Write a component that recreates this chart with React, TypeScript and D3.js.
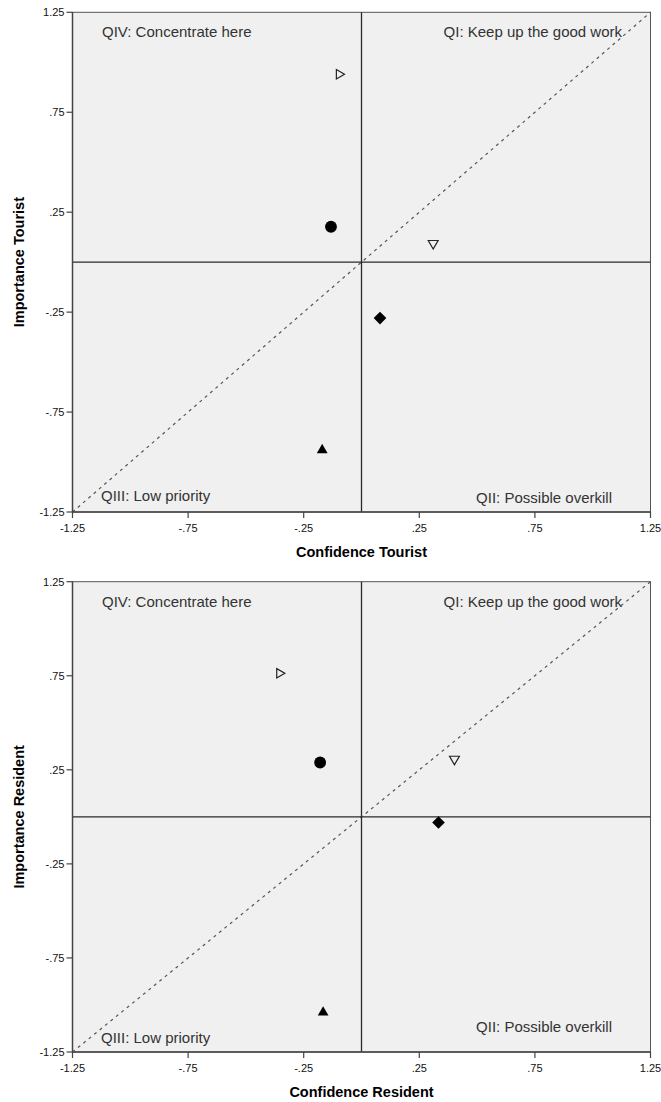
import React from "react";
import * as d3 from "d3";

const tickValues = [-1.25, -0.75, -0.25, 0.25, 0.75, 1.25];
const markerKeys = ["rightTri", "circle", "downTri", "diamond", "upTri"];

const touristConfidence = [-0.097, -0.132, 0.31, 0.08, -0.17];
const touristImportance = [0.94, 0.177, 0.094, -0.28, -0.94];

const residentConfidence = [-0.355, -0.179, 0.402, 0.333, -0.166];
const residentImportance = [0.763, 0.289, 0.307, -0.03, -1.04];

const quadrantLabels = ["QIV: Concentrate here", "QI: Keep up the good work", "QIII: Low priority", "QII: Possible overkill"];

const fmt = (v: number) => {
  const s = String(v);
  return s.replace(/^(-?)0\./, "$1.");
};

type PanelProps = {
  top: number;
  bottom: number;
  xs: number[];
  ys: number[];
  xTitle: string;
  yTitle: string;
  qiiOffset: number;
  qiiiOffset: number;
};

const FONT = "'Liberation Sans', Arial, sans-serif";

function Panel({ top, bottom, xs, ys, xTitle, yTitle, qiiOffset, qiiiOffset }: PanelProps) {
  const left = 72.5;
  const right = 650.5;
  const x = d3.scaleLinear().domain([-1.25, 1.25]).range([left, right]);
  const y = d3.scaleLinear().domain([-1.25, 1.25]).range([bottom, top]);
  const symbolFor = (k: string) => {
    if (k === "circle") return { d: d3.symbol(d3.symbolCircle, 110)()!, rot: 0, fill: "#000", stroke: "none" };
    if (k === "diamond") return { d: d3.symbol(d3.symbolSquare, 80)()!, rot: 45, fill: "#000", stroke: "none" };
    if (k === "upTri") return { d: d3.symbol(d3.symbolTriangle, 50)()!, rot: 0, fill: "#000", stroke: "none" };
    if (k === "downTri") return { d: d3.symbol(d3.symbolTriangle, 42)()!, rot: 180, fill: "none", stroke: "#222" };
    return { d: d3.symbol(d3.symbolTriangle, 38)()!, rot: 90, fill: "none", stroke: "#222" };
  };
  const midX = (left + right) / 2;
  const midY = (top + bottom) / 2;
  return (
    <g>
      <rect x={left} y={top} width={right - left} height={bottom - top} fill="#f0f0f0" stroke="#555" strokeWidth={1} />
      <line x1={x(-1.25)} y1={y(-1.25)} x2={x(1.25)} y2={y(1.25)} stroke="#555" strokeWidth={1.2} strokeDasharray="3,4" />
      <line x1={x(0)} y1={top} x2={x(0)} y2={bottom} stroke="#2a2a2a" strokeWidth={1.3} />
      <line x1={left} y1={y(0)} x2={right} y2={y(0)} stroke="#2a2a2a" strokeWidth={1.3} />
      <line x1={left} y1={top} x2={left} y2={bottom} stroke="#444" strokeWidth={1.5} />
      <line x1={left} y1={bottom} x2={right} y2={bottom} stroke="#444" strokeWidth={1.5} />
      {tickValues.map((t) => (
        <g key={"y" + t}>
          <line x1={left - 6} x2={left} y1={y(t)} y2={y(t)} stroke="#444" strokeWidth={1.2} />
          <text x={left - 8} y={y(t) + 4} textAnchor="end" fontFamily={FONT} fontSize={11} fill="#111">
            {fmt(t)}
          </text>
        </g>
      ))}
      {tickValues.map((t) => (
        <g key={"x" + t}>
          <line x1={x(t)} x2={x(t)} y1={bottom} y2={bottom + 6} stroke="#444" strokeWidth={1.2} />
          <text x={x(t)} y={bottom + 20} textAnchor="middle" fontFamily={FONT} fontSize={11} fill="#111">
            {fmt(t)}
          </text>
        </g>
      ))}
      <text x={102} y={top + 25} fontFamily={FONT} fontSize={15} fill="#333">{quadrantLabels[0]}</text>
      <text x={622} y={top + 25} textAnchor="end" fontFamily={FONT} fontSize={15} fill="#333">{quadrantLabels[1]}</text>
      <text x={101} y={bottom - qiiiOffset} fontFamily={FONT} fontSize={15} fill="#333">{quadrantLabels[2]}</text>
      <text x={612} y={bottom - qiiOffset} textAnchor="end" fontFamily={FONT} fontSize={15} fill="#333">{quadrantLabels[3]}</text>
      {markerKeys.map((k, i) => {
        const s = symbolFor(k);
        return (
          <path
            key={k}
            d={s.d}
            transform={`translate(${x(xs[i])},${y(ys[i])}) rotate(${s.rot})`}
            fill={s.fill}
            stroke={s.stroke}
            strokeWidth={1.2}
          />
        );
      })}
      <text x={midX} y={bottom + 45} textAnchor="middle" fontFamily={FONT} fontSize={14.5} fontWeight="bold" fill="#000">
        {xTitle}
      </text>
      <text
        transform={`translate(24,${midY}) rotate(-90)`}
        textAnchor="middle"
        fontFamily={FONT}
        fontSize={14.5}
        fontWeight="bold"
        fill="#000"
      >
        {yTitle}
      </text>
    </g>
  );
}

export default function App() {
  return (
    <svg width={661} height={1102} style={{ position: "absolute", left: 0, top: 0, background: "#fff" }}>
      <rect width={661} height={1102} fill="#fff" />
      <Panel
        top={12.3}
        bottom={512}
        xs={touristConfidence}
        ys={touristImportance}
        xTitle="Confidence Tourist"
        yTitle="Importance Tourist"
        qiiOffset={9}
        qiiiOffset={11}
      />
      <Panel
        top={581.7}
        bottom={1052}
        xs={residentConfidence}
        ys={residentImportance}
        xTitle="Confidence Resident"
        yTitle="Importance Resident"
        qiiOffset={20}
        qiiiOffset={9}
      />
    </svg>
  );
}
